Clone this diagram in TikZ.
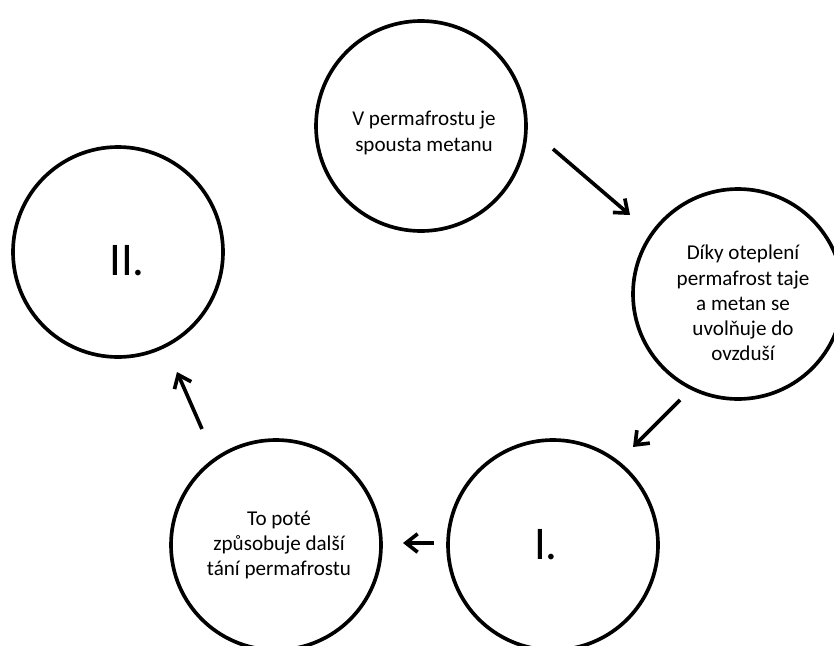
\documentclass[tikz,border=0pt]{standalone}
\usepackage{fontspec}
\setmainfont{Carlito}
\usetikzlibrary{arrows.meta}
\begin{document}
\begin{tikzpicture}[x=0.3mm,y=-0.3mm,
        bubble/.style={circle,draw,line width=1.1mm,minimum size=63mm,inner sep=0pt},
        txt/.style={align=center,inner sep=0pt,font=\fontsize{18}{21.5}\selectfont},
        numeral/.style={inner sep=0pt,font=\fontsize{40}{48}\selectfont},
        flow/.style={line width=1.1mm,-{Straight Barb[length=3.5mm,width=5.5mm]}}]
                \useasboundingbox (0,0) rectangle (834,645);
                %% circles
                \node[bubble] (store) at (421,126) {};
                \node[bubble] (thaw) at (738,294) {};
                \node[bubble] (one) at (553,545) {};
                \node[bubble] (more) at (276,545) {};
                \node[bubble] (two) at (118,252) {};
                %% texts
                \node[txt] (storetxt) at (424,133) {V permafrostu je\\spousta metanu};
                \node[txt] (thawtxt) at (743,303) {Díky oteplení\\permafrost taje\\a metan se\\uvolňuje do\\ovzduší};
                \node[txt] (moretxt) at (279,545) {To poté\\způsobuje další\\tání permafrostu};
                \node[numeral] (onetxt) at (546,545) {I.};
                \node[numeral] (twotxt) at (127,261) {II.};
                %% arrow ends
                \coordinate (s1) at (553,149); \coordinate (e1) at (630,215);
                \coordinate (s2) at (680,400); \coordinate (e2) at (633,447);
                \coordinate (s3) at (434,543); \coordinate (e3) at (403,543);
                \coordinate (s4) at (202,429); \coordinate (e4) at (177,372);
                %% arrows
                \draw[flow] (s1) -- (e1);
                \draw[flow] (s2) -- (e2);
                \draw[flow] (s3) -- (e3);
                \draw[flow] (s4) -- (e4);
            \end{tikzpicture}
\end{document}
